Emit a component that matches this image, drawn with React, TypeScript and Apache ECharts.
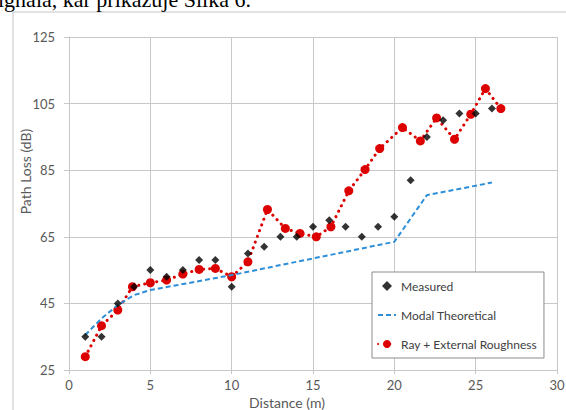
import React, { useEffect, useRef } from "react";
import * as echarts from "echarts";

const xTicks = [0, 5, 10, 15, 20, 25, 30];
const yTicks = [25, 45, 65, 85, 105, 125];

const measuredX = [1, 2, 3, 4, 5, 6, 7, 8, 9, 10, 11, 12, 13, 14, 15, 16, 17, 18, 19, 20, 21, 22, 23, 24, 25, 26];
const measuredY = [35, 35, 45, 50, 55, 53, 55, 58, 58, 50, 60, 62, 65, 65, 68, 70, 68, 65, 68, 71, 82, 95, 100, 102, 102, 103.5];

const modalX = [1, 2, 3, 4, 5, 10, 15, 20, 22, 26];
const modalY = [35.5, 40.5, 44.5, 47.5, 49, 53.5, 58.5, 63.5, 77.5, 81.3];

const rayX = [1, 2, 3, 3.9, 5, 6, 7, 8, 9, 10, 11, 12.2, 13.3, 14.2, 15.2, 16.1, 17.2, 18.2, 19.1, 20.5, 21.6, 22.6, 23.7, 24.7, 25.6, 26.55];
const rayY = [29, 38.3, 43, 50, 51.2, 52, 53.8, 55.2, 55.5, 53, 57.5, 73.2, 67.5, 66, 65, 68, 78.8, 85.2, 91.5, 97.8, 93.8, 100.7, 94.3, 101.8, 109.5, 103.5];

const zip = (xs: number[], ys: number[]) => xs.map((x, i) => [x, ys[i]]);

export default function App() {
  const ref = useRef<HTMLDivElement>(null);
  useEffect(() => {
    const chart = echarts.init(ref.current!, null, { renderer: "svg" });
    const font = "Lato";
    const labelColor = "#595959";
    const gridColor = "#c8c8c8";
    chart.setOption({
      animation: false,
      backgroundColor: "#fff",
      graphic: [
        {
          type: "rect",
          shape: { x: 13, y: 12, width: 600, height: 420 },
          style: { fill: "none", stroke: "#c4c4c4", lineWidth: 1 },
          silent: true,
        },
        {
          type: "text",
          x: -2,
          y: -1,
          style: {
            text: "ignala, kar prikazuje Slika 6.",
            font: '22px "Liberation Serif", "Times New Roman", serif',
            fill: "#000",
            verticalAlign: "middle",
            align: "left",
          },
          silent: true,
        },
      ],
      grid: { left: 69, right: 9, top: 37, bottom: 40, containLabel: false, outerBoundsMode: "none" },
      legend: {
        orient: "vertical",
        left: 372,
        top: 272,
        padding: [8, 7, 8, 5],
        itemGap: 17,
        itemWidth: 18,
        itemHeight: 10,
        borderColor: "#8c8c8c",
        borderWidth: 1,
        backgroundColor: "#fff",
        textStyle: { fontFamily: font, fontSize: 12, color: "#404040" },
        data: [
          { name: "Measured", icon: "path://M5,0L10,5L5,10L0,5Z", itemStyle: { color: "#000" } },
          { name: "Modal Theoretical", itemStyle: { opacity: 0 } },
          { name: "Ray + External Roughness" },
        ],
      },
      xAxis: {
        type: "value",
        min: 0,
        max: 30,
        interval: 5,
        name: "Distance (m)",
        nameLocation: "middle",
        nameGap: 25,
        nameMoveOverlap: false,
        nameTextStyle: { fontFamily: font, fontSize: 14, color: labelColor, padding: [0, 52, 0, 0] },
        axisLine: { show: true, lineStyle: { color: gridColor } },
        axisTick: { show: true, length: 4, lineStyle: { color: gridColor } },
        axisLabel: { fontFamily: font, fontSize: 13, color: labelColor, margin: 8 },
        splitLine: { show: true, lineStyle: { color: gridColor } },
      },
      yAxis: {
        type: "value",
        min: 25,
        max: 125,
        name: "Path Loss (dB)",
        nameLocation: "middle",
        nameGap: 37,
        nameMoveOverlap: false,
        nameRotate: 90,
        nameTextStyle: { fontFamily: font, fontSize: 14, color: labelColor, padding: [0, 0, 0, 64] },
        axisLine: { show: true, lineStyle: { color: gridColor } },
        axisTick: { show: true, length: 5, inside: false, customValues: yTicks, lineStyle: { color: gridColor } },
        axisLabel: { fontFamily: font, fontSize: 13, color: labelColor, margin: 14, customValues: yTicks },
        splitLine: { show: true, lineStyle: { color: gridColor } },
      },
      series: [
        {
          name: "Ray + External Roughness",
          type: "line",
          data: zip(rayX, rayY),
          symbol: "circle",
          symbolSize: 9,
          showSymbol: true,
          itemStyle: { color: "#dc0000" },
          lineStyle: { color: "#dc0000", width: 3, type: [0.1, 6], cap: "round" },
          z: 2,
        },
        {
          name: "Modal Theoretical",
          type: "line",
          data: zip(modalX, modalY),
          symbol: "none",
          itemStyle: { color: "#2e8fd8" },
          lineStyle: { color: "#2e8fd8", width: 2, type: [5, 3] },
          z: 3,
        },
        {
          name: "Measured",
          type: "scatter",
          data: zip(measuredX, measuredY),
          symbol: "diamond",
          symbolSize: 8,
          itemStyle: { color: "#000" },
          z: 4,
        },
      ],
    });
    return () => chart.dispose();
  }, []);
  return (
    <div
      ref={ref}
      style={{ position: "fixed", left: 0, top: 0, width: 566, height: 410, background: "#fff" }}
    />
  );
}
